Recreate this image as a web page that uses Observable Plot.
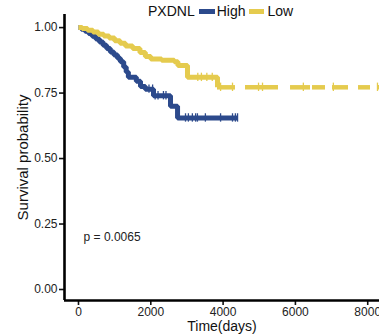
<!DOCTYPE html>
<html>
<head>
<meta charset="utf-8">
<script src="https://cdn.jsdelivr.net/npm/d3@7"></script>
<script src="https://cdn.jsdelivr.net/npm/@observablehq/plot@0.6"></script>
<style>
  body { margin: 0; background: white; font-family: "Liberation Sans", Arial, sans-serif; }
  #legend { position: relative; height: 13px; width: 379px; }
  #legend .inner { position: absolute; top: 2px; left: 148px; height: 18px; display: flex; align-items: center; font-size: 14px; color: #111; white-space: nowrap; }
  .sw { display: inline-block; height: 5px; }
  #chart svg { display: block; }
</style>
</head>
<body>
<div id="legend"></div>
<div id="chart"></div>
<script>
// ---- data ----
const groupTitle = "PXDNL";
const groups = ["High", "Low"];
const groupColors = ["#2C4A8C", "#E5CB4E"];

const highTime = [0, 80, 180, 280, 380, 480, 580, 680, 780, 880, 980, 1080, 1160, 1250, 1320, 1380, 1600, 1715, 1850, 2075, 2545, 2740, 4400];
const highSurv = [1, 0.994, 0.986, 0.977, 0.967, 0.956, 0.945, 0.933, 0.92, 0.907, 0.895, 0.883, 0.87, 0.85, 0.83, 0.81, 0.795, 0.775, 0.765, 0.74, 0.70, 0.655, 0.655];
const highCensor = [1950, 2050, 2120, 2200, 2350, 2420, 2960, 3040, 3150, 3240, 3290, 3510, 3930, 4260, 4340, 4400];

const lowTime = [0, 100, 250, 400, 550, 700, 850, 1000, 1150, 1300, 1500, 1700, 1850, 2000, 2300, 2650, 2750, 3015, 3845];
const lowSurv = [1, 0.997, 0.99, 0.983, 0.975, 0.968, 0.96, 0.95, 0.94, 0.93, 0.92, 0.905, 0.89, 0.88, 0.875, 0.87, 0.855, 0.81, 0.772];
const lowCensor = [3300, 3400, 3550, 3700, 3930, 4260, 4980, 5090, 6220, 7050, 8270];
// visible pieces of the Low tail (censor clusters)
const lowTailStart = [3845, 4620, 5865, 6473, 7026, 7746, 8271];
const lowTailEnd   = [4343, 5532, 6418, 6833, 7469, 8077, 8400];

const xTicks = [0, 2000, 4000, 6000, 8000];
const yTicks = [0, 0.25, 0.5, 0.75, 1];
const xLabel = "Time(days)";
const yLabel = "Survival probability";
const pText = "p = 0.0065";
const pPos = {x: 140, y: 0.2};

// ---- build ----
function survAt(times, surv, t) {
  let s = surv[0];
  for (let i = 0; i < times.length; i++) if (times[i] <= t) s = surv[i];
  return s;
}
const highData = highTime.map((t, i) => ({t, s: highSurv[i]}));
const lowData = lowTime.map((t, i) => ({t, s: lowSurv[i]}));
const highCens = highCensor.map(t => ({t, s: survAt(highTime, highSurv, t)}));
const lowCens = lowCensor.map(t => ({t, s: survAt(lowTime, lowSurv, t)}));
const lowTail = lowTailStart.map((a, i) => ({a, b: lowTailEnd[i], s: lowSurv[lowSurv.length - 1]}));

const xDom = [-387, 8326];
const yDom = [-0.042, 1.05];

// legend
const leg = document.querySelector("#legend");
leg.innerHTML = `<div class="inner"><span>${groupTitle}</span>` +
  `<span class="sw" style="width:16px;background:${groupColors[0]};margin-left:4px"></span>` +
  `<span style="margin-left:2px">${groups[0]}</span>` +
  `<span class="sw" style="width:15px;background:${groupColors[1]};margin-left:4px"></span>` +
  `<span style="margin-left:3px">${groups[1]}</span></div>`;

const chart = Plot.plot({
  width: 379,
  height: 322,
  marginLeft: 64,
  marginRight: 0,
  marginTop: 1,
  marginBottom: 35,
  x: {domain: xDom},
  y: {domain: yDom},
  style: {fontFamily: "Liberation Sans, Arial, sans-serif", fontSize: "12px", color: "#222", background: "white"},
  marks: [
    Plot.axisY({ticks: yTicks, tickFormat: d3.format(".2f"), tickSize: 5, tickPadding: 2, strokeWidth: 1.6, stroke: "#111", fontSize: 12, label: null}),
    Plot.axisX({ticks: xTicks, tickFormat: d3.format("d"), tickSize: 5, tickPadding: 2, strokeWidth: 1.6, stroke: "#111", fontSize: 12, label: null}),
    Plot.ruleX([xDom[0]], {y1: yDom[0], y2: yDom[1], stroke: "#000", strokeWidth: 2.6}),
    Plot.ruleY([yDom[0]], {x1: xDom[0], x2: xDom[1], stroke: "#000", strokeWidth: 2.6}),
    Plot.line(highData, {x: "t", y: "s", curve: "step-after", stroke: groupColors[0], strokeWidth: 5, strokeLinejoin: "miter", strokeLinecap: "butt"}),
    Plot.ruleX(highCens, {x: "t", y1: d => d.s - 0.016, y2: d => d.s + 0.016, stroke: groupColors[0], strokeWidth: 1.3}),
    Plot.line(lowData, {x: "t", y: "s", curve: "step-after", stroke: groupColors[1], strokeWidth: 5, strokeLinejoin: "miter", strokeLinecap: "butt"}),
    Plot.ruleY(lowTail, {x1: "a", x2: "b", y: "s", stroke: groupColors[1], strokeWidth: 4.5}),
    Plot.ruleX(lowCens, {x: "t", y1: d => d.s - 0.016, y2: d => d.s + 0.016, stroke: groupColors[1], strokeWidth: 1.3}),
    Plot.text([pPos], {x: "x", y: "y", text: () => pText, textAnchor: "start", fontSize: 12, fill: "#222"}),
    Plot.text([yLabel], {frameAnchor: "left", textAnchor: "middle", lineAnchor: "middle", rotate: -90, dx: -41, fontSize: 15, fill: "#111"}),
    Plot.text([xLabel], {frameAnchor: "bottom", textAnchor: "middle", lineAnchor: "middle", dy: 26, fontSize: 14, fill: "#111"})
  ]
});
document.querySelector("#chart").append(chart);
</script>
</body>
</html>
